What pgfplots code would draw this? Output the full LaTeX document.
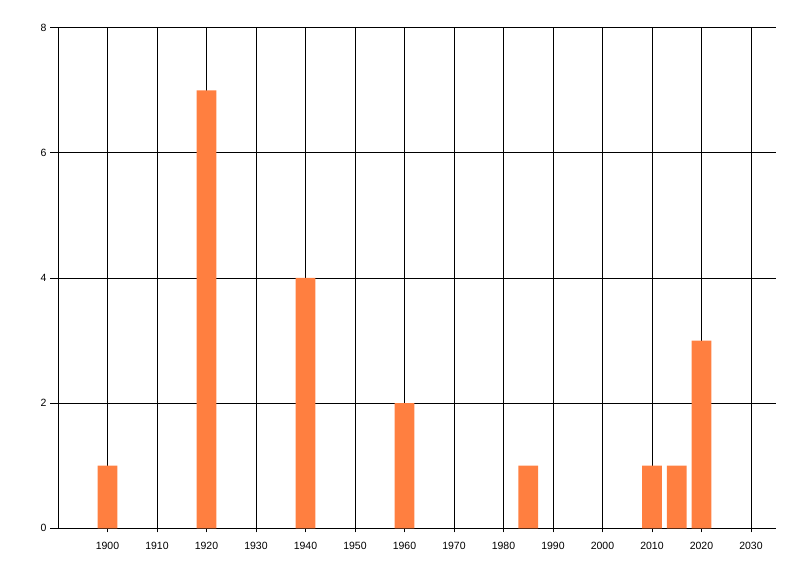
\documentclass[border=0pt]{standalone}
\usepackage{fontspec}
\setmainfont{Liberation Sans}
\usepackage{pgfplots}
\pgfplotsset{compat=1.18}
\definecolor{barc}{RGB}{255,127,64}
\begin{document}
\begin{tikzpicture}[x=1bp,y=1bp]
\useasboundingbox (0,0) rectangle (800,576);
\begin{axis}[
  at={(58bp,47.7bp)}, anchor=origin,
  scale only axis,
  width=717.7bp, height=500.6bp,
  xmin=1890, xmax=2035, ymin=0, ymax=8,
  axis x line*=bottom, axis y line*=left,
  axis line style={black, line width=0.9bp, -},
  xtick={1900,1910,...,2030},
  ytick={0,2,4,6,8},
  xticklabel style={/pgf/number format/1000 sep={}},
  /pgf/number format/assume math mode=true,
  ticklabel style={font=\fontsize{10.5bp}{12bp}\selectfont, text=black},
  xmajorgrids, ymajorgrids,
  major grid style={black, line width=0.9bp},
  major tick style={black, line width=0.9bp},
  major tick length=8bp,
  x tick style={/pgfplots/major tick length=4bp},
  tick align=outside,
  xticklabel style={yshift=-2bp},
  ybar, bar width=4,
]
\addplot[fill=barc, draw=none] coordinates {
(1900,1) (1920,7) (1940,4) (1960,2) (1985,1) (2010,1) (2015,1) (2020,3)
};
\end{axis}
\end{tikzpicture}
\end{document}
